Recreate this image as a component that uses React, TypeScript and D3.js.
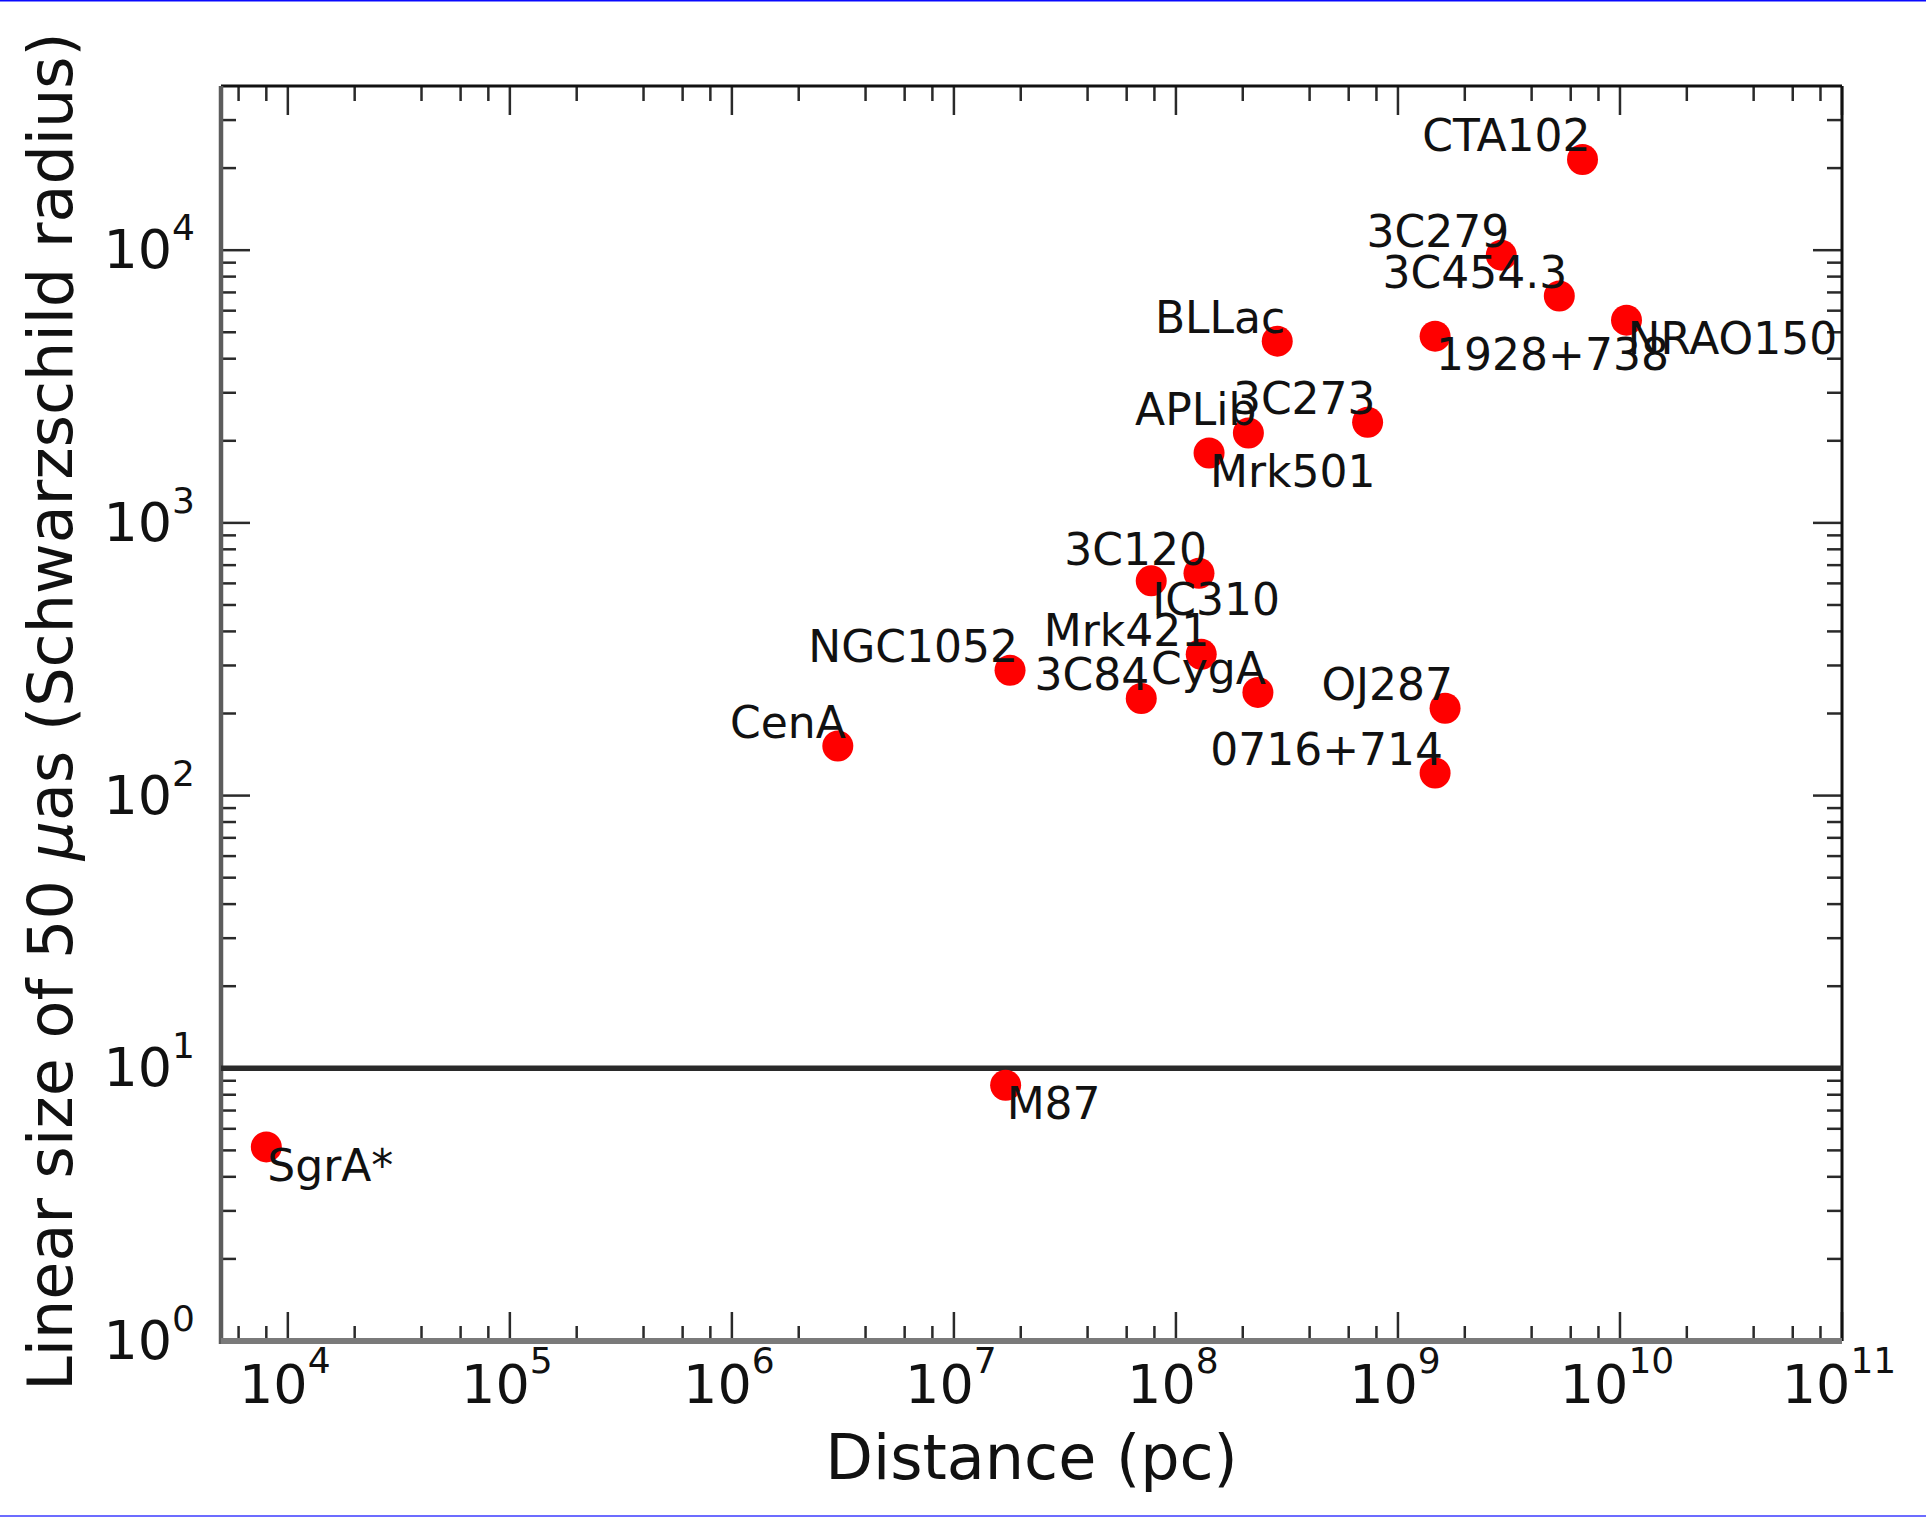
import React from 'react';
import * as d3 from 'd3';

// Radio sources: distance (pc) and the linear size spanned by 50 µas, in Schwarzschild radii
const sources = [
  'SgrA*', 'M87', 'CenA', 'NGC1052', '3C84', 'IC310', '3C120', 'Mrk421', 'CygA', 'Mrk501',
  'APLib', 'BLLac', '3C273', '0716+714', 'OJ287', '1928+738', '3C279', '3C454.3', 'CTA102', 'NRAO150',
];
const distancePc = [
  8.0e3, 1.71e7, 3.0e6, 1.79e7, 6.98e7, 7.74e7, 1.27e8, 1.30e8, 2.34e8, 1.41e8,
  2.12e8, 2.86e8, 7.3e8, 1.47e9, 1.63e9, 1.47e9, 2.92e9, 5.33e9, 6.78e9, 1.07e10,
];
const sizeRs = [
  5.15, 8.67, 152, 288, 227, 613, 654, 330, 239, 1805,
  2136, 4640, 2340, 121, 209, 4840, 9590, 6790, 21500, 5540,
];
// Annotation placement: 'lt' = starts at the marker and hangs below it, 'rb' = ends at the marker and sits above it
const labelSide = [
  'lt', 'lt', 'rb', 'rb', 'rb', 'lt', 'rb', 'rb', 'rb', 'lt',
  'rb', 'rb', 'rb', 'rb', 'rb', 'lt', 'rb', 'rb', 'rb', 'lt',
];

// Reference level drawn across the plot
const thresholdRs = 10;

// Axis decades and minor subdivisions
const xDomain = [5e3, 1e11];
const yDomain = [1, 4e4];
const xExponents = [4, 5, 6, 7, 8, 9, 10, 11];
const yExponents = [0, 1, 2, 3, 4];
const xMinorSubs = [2, 4, 6, 8];
const yMinorSubs = [2, 3, 4, 5, 6, 7, 8, 9];

const xTitle = 'Distance (pc)';
const yTitleA = 'Linear size of 50 ';
const yTitleMu = 'μ';
const yTitleB = 'as (Schwarzschild radius)';

const W = 1926;
const H = 1517;
const frame = { left: 221, right: 1842, top: 86, bottom: 1341 };
const FONT = '"DejaVu Sans", Verdana, sans-serif';

function minorValues(domain: number[], subs: number[]) {
  const out: number[] = [];
  const e0 = Math.floor(Math.log10(domain[0]));
  const e1 = Math.ceil(Math.log10(domain[1]));
  for (let e = e0; e <= e1; e++) {
    for (const s of subs) {
      const v = s * Math.pow(10, e);
      if (v > domain[0] && v < domain[1]) out.push(v);
    }
  }
  return out;
}

export default function App() {
  const x = d3.scaleLog().domain(xDomain).range([frame.left, frame.right]);
  const y = d3.scaleLog().domain(yDomain).range([frame.bottom, frame.top]);

  const majorLen = 29;
  const minorLen = 15;
  const tickColor = '#2a2a2a';

  const xMajor = xExponents.map((e) => Math.pow(10, e));
  const yMajor = yExponents.map((e) => Math.pow(10, e));
  const xMinor = minorValues(xDomain, xMinorSubs);
  const yMinor = minorValues(yDomain, yMinorSubs);

  const tickFs = 54;
  const supFs = 36;
  const labelFs = 44;
  const titleFs = 62;

  const points = sources.map((name, i) => ({
    name,
    cx: x(distancePc[i]),
    cy: y(sizeRs[i]),
    side: labelSide[i],
  }));

  return (
    <svg
      width={W}
      height={H}
      viewBox={`0 0 ${W} ${H}`}
      style={{ position: 'absolute', left: 0, top: 0, display: 'block', background: '#fff' }}
      fontFamily={FONT}
    >
      <rect x={0} y={0} width={W} height={H} fill="#fff" />
      <rect x={0} y={0} width={W} height={1.5} fill="#0a0aff" />
      <rect x={0} y={H - 2} width={W} height={2} fill="#6c6cff" />

      {/* ticks on all four sides, pointing inwards */}
      <g stroke={tickColor} strokeWidth={2.5}>
        {xMajor.map((v) => (
          <g key={`xM${v}`}>
            <line x1={x(v)} x2={x(v)} y1={frame.bottom} y2={frame.bottom - majorLen} />
            <line x1={x(v)} x2={x(v)} y1={frame.top} y2={frame.top + majorLen} />
          </g>
        ))}
        {xMinor.map((v) => (
          <g key={`xm${v}`}>
            <line x1={x(v)} x2={x(v)} y1={frame.bottom} y2={frame.bottom - minorLen} />
            <line x1={x(v)} x2={x(v)} y1={frame.top} y2={frame.top + minorLen} />
          </g>
        ))}
        {yMajor.map((v) => (
          <g key={`yM${v}`}>
            <line x1={frame.left} x2={frame.left + majorLen} y1={y(v)} y2={y(v)} />
            <line x1={frame.right} x2={frame.right - majorLen} y1={y(v)} y2={y(v)} />
          </g>
        ))}
        {yMinor.map((v) => (
          <g key={`ym${v}`}>
            <line x1={frame.left} x2={frame.left + minorLen} y1={y(v)} y2={y(v)} />
            <line x1={frame.right} x2={frame.right - minorLen} y1={y(v)} y2={y(v)} />
          </g>
        ))}
      </g>

      {/* spines */}
      <line x1={frame.left} x2={frame.right} y1={frame.top} y2={frame.top} stroke="#111" strokeWidth={3} />
      <line x1={frame.right} x2={frame.right} y1={frame.top} y2={frame.bottom} stroke="#111" strokeWidth={3} />
      <line x1={frame.left} x2={frame.left} y1={frame.top} y2={frame.bottom + 3} stroke="#5c5c5c" strokeWidth={4.5} />
      <line x1={frame.left} x2={frame.right} y1={frame.bottom} y2={frame.bottom} stroke="#7a7a7a" strokeWidth={6} />

      {/* threshold line */}
      <line
        x1={frame.left}
        x2={frame.right}
        y1={y(thresholdRs)}
        y2={y(thresholdRs)}
        stroke="#2a2a2a"
        strokeWidth={5.5}
      />

      {/* x tick labels */}
      {xExponents.map((e) => (
        <text
          key={`xl${e}`}
          x={x(Math.pow(10, e)) - 3}
          y={frame.bottom + 62}
          textAnchor="middle"
          fontSize={tickFs}
          fill="#111"
        >
          10
          <tspan fontSize={supFs} dy={-30}>
            {String(e)}
          </tspan>
        </text>
      ))}

      {/* y tick labels */}
      {yExponents.map((e) => (
        <text
          key={`yl${e}`}
          x={195}
          y={y(Math.pow(10, e)) + 18}
          textAnchor="end"
          fontSize={tickFs}
          fill="#111"
        >
          10
          <tspan fontSize={supFs} dy={-28}>
            {String(e)}
          </tspan>
        </text>
      ))}

      {/* axis titles */}
      <text
        x={(frame.left + frame.right) / 2}
        y={1479}
        textAnchor="middle"
        fontSize={titleFs}
        fill="#111"
      >
        {xTitle}
      </text>
      <text
        transform={`translate(72, ${(frame.top + frame.bottom) / 2 - 2}) rotate(-90)`}
        textAnchor="middle"
        fontSize={titleFs}
        fill="#111"
      >
        {yTitleA}
        <tspan fontStyle="italic">{yTitleMu}</tspan>
        {yTitleB}
      </text>

      {/* sources */}
      <g fill="#ff0000">
        {points.map((p) => (
          <circle key={`c${p.name}`} cx={p.cx} cy={p.cy} r={15.5} />
        ))}
      </g>
      <g fontSize={labelFs} fill="#111">
        {points.map((p) =>
          p.side === 'rb' ? (
            <text key={`t${p.name}`} x={p.cx + 8} y={p.cy - 8.4} textAnchor="end">
              {p.name}
            </text>
          ) : (
            <text key={`t${p.name}`} x={p.cx + 1} y={p.cy + 34} textAnchor="start">
              {p.name}
            </text>
          )
        )}
      </g>
    </svg>
  );
}
